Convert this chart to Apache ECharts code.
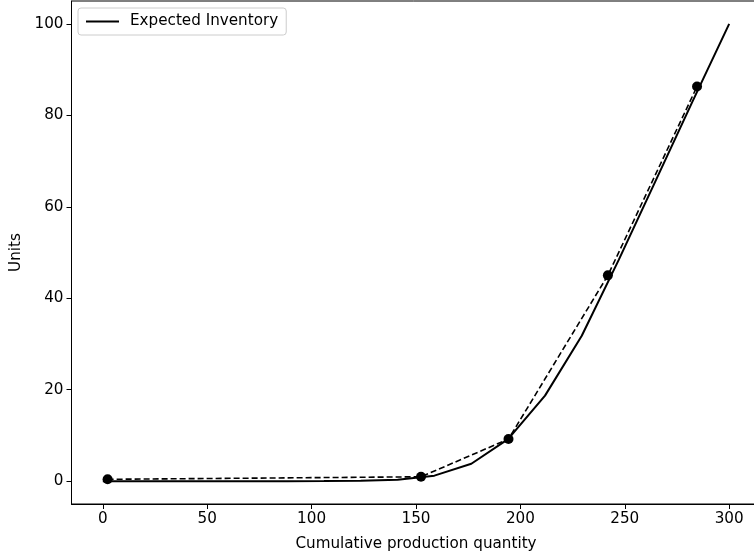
<!DOCTYPE html>
<html>
<head>
<meta charset="utf-8">
<script src="https://cdn.jsdelivr.net/npm/echarts@6/dist/echarts.min.js"></script>
<style>
  html, body { margin: 0; padding: 0; background: #fff; }
  #chart { width: 754px; height: 558px; }
</style>
</head>
<body>
<div id="chart"></div>
<script>
// expected inventory curve (solid)
const expectedX = [0, 17.6, 35.3, 52.9, 70.6, 88.2, 105.9, 123.5, 141.2, 158.8, 176.5, 194.1, 211.8, 229.4, 247.1, 264.7, 282.4, 300];
const expectedY = [0, 0, 0, 0, 0, 0, 0.02, 0.08, 0.3, 1.2, 3.8, 9.2, 18.7, 31.8, 48.4, 65.6, 83, 100];
// sampled points (dashed with markers)
const sampleX = [2.3, 152.4, 194.3, 241.9, 284.6];
const sampleY = [0.4, 0.95, 9.2, 45.0, 86.3];
const xTicks = [0, 50, 100, 150, 200, 250, 300];
const yTicks = [0, 20, 40, 60, 80, 100];

const chart = echarts.init(document.getElementById("chart"));
const font = "DejaVu Sans";
const fs = 15.2;

const axisCommon = {
  type: "value",
  axisLine: { show: true, onZero: false, lineStyle: { color: "#000", width: 1 } },
  splitLine: { show: false },
  nameLocation: "middle",
  nameTextStyle: { fontFamily: font, fontSize: fs, color: "#000" },
};

chart.setOption({
  animation: false,
  grid: {
    left: 71.5,
    top: 1,
    width: 689,
    height: 503,
    outerBoundsMode: "none",
    containLabel: false,
    show: true,
    borderColor: "#000",
    borderWidth: 1,
  },
  legend: {
    data: ["Expected Inventory"],
    left: 78,
    top: 8,
    padding: [6, 8],
    borderColor: "#ccc",
    borderWidth: 1,
    borderRadius: 3,
    backgroundColor: "#fff",
    icon: "rect",
    itemWidth: 33,
    itemHeight: 2,
    itemGap: 10,
    textStyle: { fontFamily: font, fontSize: fs, color: "#000", padding: [0, 0, 0, 6] },
  },
  xAxis: Object.assign({}, axisCommon, {
    min: -15,
    max: 315,
    name: "Cumulative production quantity",
    nameGap: 33,
    axisTick: { show: true, length: 5, customValues: xTicks, lineStyle: { color: "#000" } },
    axisLabel: { customValues: xTicks, fontFamily: font, fontSize: fs, color: "#000", margin: 8 },
  }),
  yAxis: Object.assign({}, axisCommon, {
    min: -5,
    max: 105,
    name: "Units",
    nameGap: 44,
    axisTick: { show: true, length: 5, customValues: yTicks, lineStyle: { color: "#000" } },
    axisLabel: { customValues: yTicks, fontFamily: font, fontSize: fs, color: "#000", margin: 8 },
  }),
  series: [
    {
      name: "Expected Inventory",
      type: "line",
      data: expectedX.map((x, i) => [x, expectedY[i]]),
      showSymbol: false,
      lineStyle: { color: "#000", width: 2 },
      itemStyle: { color: "#000" },
      z: 3,
    },
    {
      name: "Samples",
      type: "line",
      data: sampleX.map((x, i) => [x, sampleY[i]]),
      symbol: "circle",
      symbolSize: 10,
      lineStyle: { color: "#000", width: 1.6, type: [6, 3] },
      itemStyle: { color: "#000" },
      z: 4,
    },
  ],
});
</script>
</body>
</html>
